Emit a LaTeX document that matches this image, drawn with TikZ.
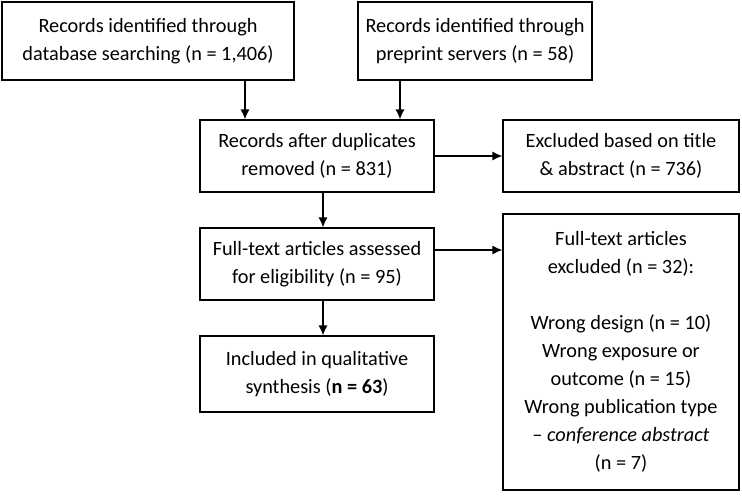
\documentclass[tikz,border=0pt]{standalone}
\usepackage{fontspec}
\setmainfont{Carlito}
\usetikzlibrary{arrows.meta}
\begin{document}
\begin{tikzpicture}[x=1pt,y=-1pt,
  box/.style={draw,line width=1.2pt,align=center,font=\fontsize{20.3}{28}\selectfont,inner sep=0pt},
  arr/.style={-{Latex[length=10pt,width=9pt]},line width=1.2pt}]
\useasboundingbox (0,0) rectangle (742,496);
\node[box,minimum width=292,minimum height=78] (a) at (148,41) {Records identified through\\database searching (n = 1,406)};
\node[box,minimum width=234,minimum height=78] (b) at (475,41) {Records identified through\\preprint servers (n = 58)};
\node[box,minimum width=234,minimum height=72] (c) at (317,156) {Records after duplicates\\removed (n = 831)};
\node[box,minimum width=236,minimum height=72] (d) at (621,156) {Excluded based on title\\\& abstract (n = 736)};
\node[box,minimum width=234,minimum height=72] (e) at (317,264) {Full-text articles assessed\\for eligibility (n = 95)};
\node[box,minimum width=236,minimum height=276] (f) at (621,352) {Full-text articles\\excluded (n = 32):\\[28pt]Wrong design (n = 10)\\Wrong exposure or\\outcome (n = 15)\\Wrong publication type\\-- \textit{conference abstract}\\(n = 7)};
\node[box,minimum width=234,minimum height=76] (g) at (317,374) {Included in qualitative\\synthesis (\textbf{n = 63})};
\draw[arr] (a.south -| 245,0) -- (c.north -| 245,0);
\draw[arr] (b.south -| 400,0) -- (c.north -| 400,0);
\draw[arr] (c.east) -- (d.west);
\draw[arr] (c.south -| 323,0) -- (e.north -| 323,0);
\draw[arr] (e.east |- 0,250) -- (f.west |- 0,250);
\draw[arr] (e.south -| 323,0) -- (g.north -| 323,0);
\end{tikzpicture}
\end{document}
